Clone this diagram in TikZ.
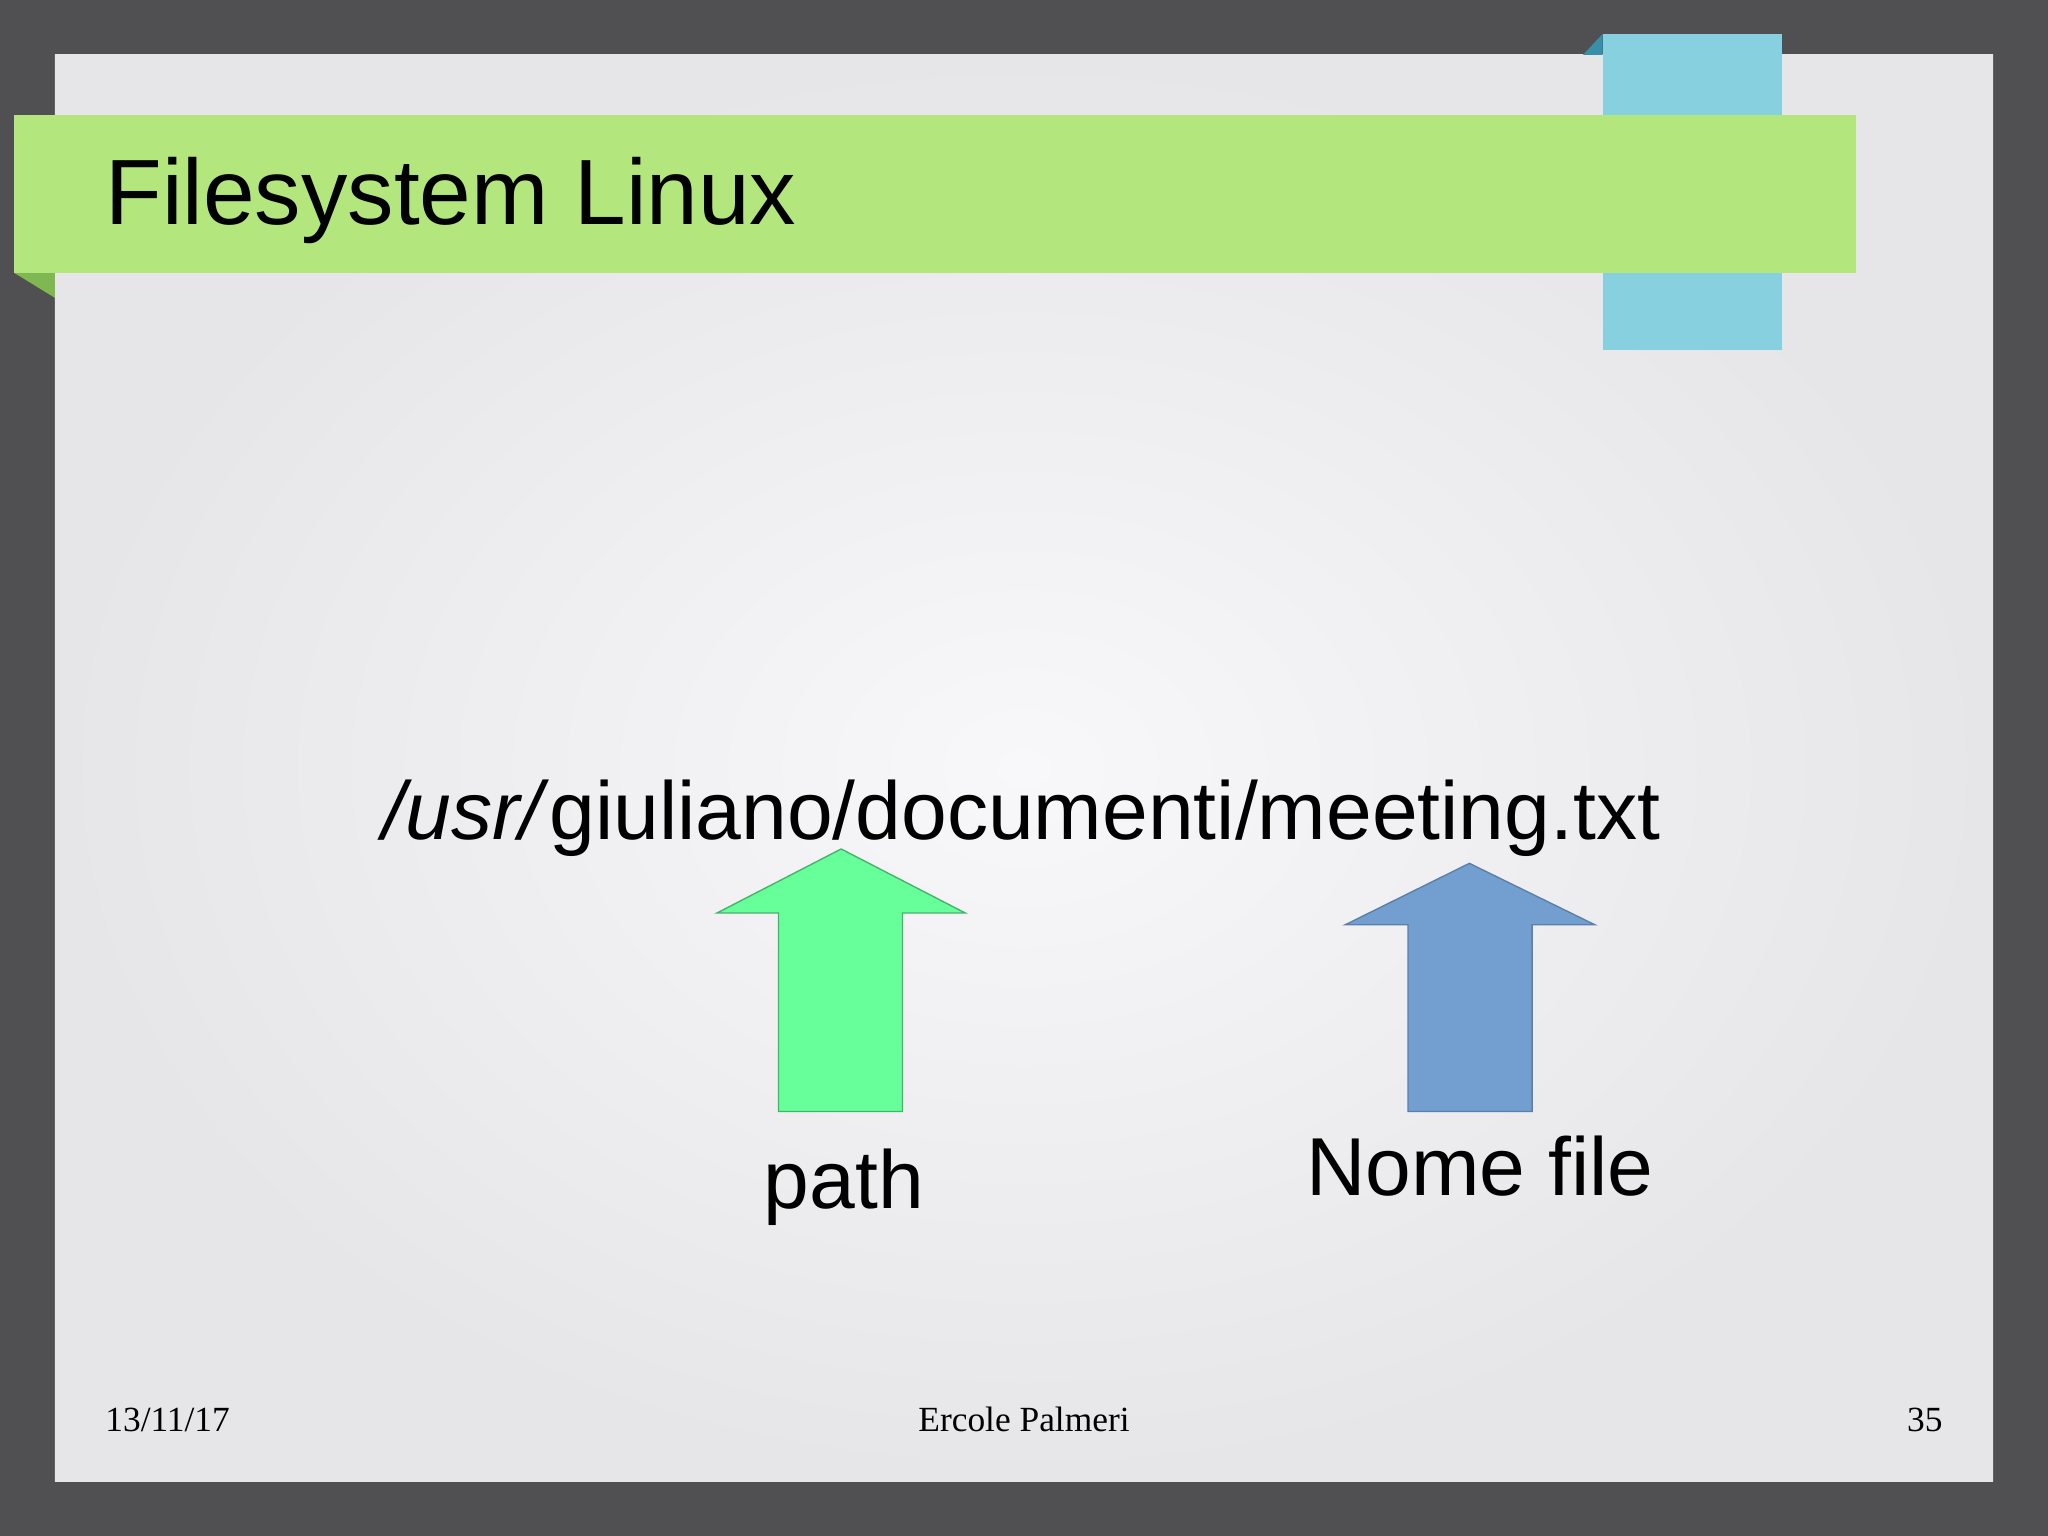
\documentclass[tikz,border=0pt]{standalone}
\usepackage{fontspec}
\setmainfont{Liberation Sans}
\newfontfamily\serifft{Liberation Serif}
\definecolor{bgdark}{HTML}{505052}
\definecolor{slidec}{HTML}{F8F8FA}
\definecolor{slideedge}{HTML}{E6E6E8}
\definecolor{bannerg}{HTML}{B3E67C}
\definecolor{bannerd}{HTML}{7FB850}
\definecolor{tabblue}{HTML}{86D0DF}
\definecolor{tabdark}{HTML}{3A8FA8}
\definecolor{arrg}{HTML}{66FF99}
\definecolor{arrb}{HTML}{729FCF}
\tikzset{
 u/.style={x=0.01cm,y=-0.01cm},
 bigtxt/.style={font=\fontsize{17.9pt}{21pt}\selectfont, anchor=base, inner sep=0},
 foot/.style={font=\serifft\fontsize{7.7pt}{10pt}\selectfont, anchor=base, inner sep=0}
}
\begin{document}
\begin{tikzpicture}[u]
\fill[bgdark] (0,0) rectangle (1568,1176);
\useasboundingbox (0,0) rectangle (1568,1176);
\shade[inner color=slidec, outer color=slideedge] (42,42) rectangle (1526,1134);
\fill[tabdark] (1212,42) -- (1227,26) -- (1227,42) -- cycle;
\fill[tabblue] (1227,26) rectangle (1364,268);
\fill[bannerd] (11,209) -- (42,228) -- (42,209) -- cycle;
\fill[bannerg] (11,88) rectangle (1421,209);
\node[anchor=base west, inner sep=0, font=\fontsize{20.2pt}{24pt}\selectfont] (title) at (80,172) {Filesystem Linux};
\node[bigtxt] (pathtxt) at (782,643) {\textit{/usr/}giuliano/documenti/meeting.txt};
\draw[fill=arrg, draw=arrg!70!black, line width=0.3pt] (596,851) -- (596,699) -- (549,699) -- (644,650) -- (739,699) -- (691,699) -- (691,851) -- cycle;
\draw[fill=arrb, draw=arrb!80!black, line width=0.3pt] (1078,851) -- (1078,708) -- (1030,708) -- (1125,661) -- (1221,708) -- (1173,708) -- (1173,851) -- cycle;
\node[bigtxt] (p) at (646,925) {path};
\node[bigtxt] (n) at (1133,915) {Nome file};
\node[foot, anchor=base west] (d) at (80,1096) {13/11/17};
\node[foot] (a) at (784,1096) {Ercole Palmeri};
\node[foot, anchor=base east] (pg) at (1488,1096) {35};
\end{tikzpicture}
\end{document}
